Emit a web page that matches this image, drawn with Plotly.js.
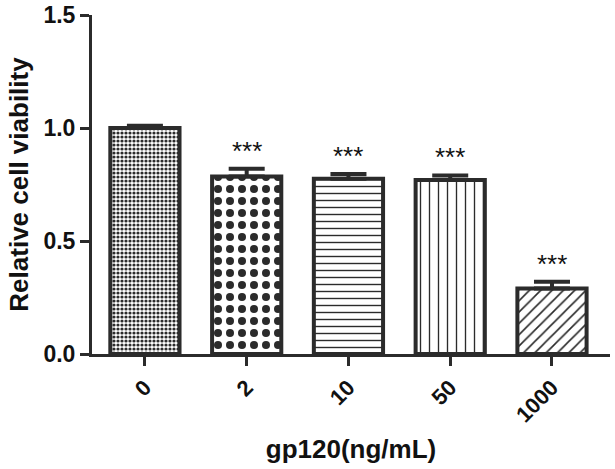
<!DOCTYPE html>
<html>
<head>
<meta charset="utf-8">
<script src="https://cdn.plot.ly/plotly-3.0.1.min.js"></script>
<style>html,body{margin:0;padding:0;background:#fff;}#chart{width:615px;height:469px;}</style>
</head>
<body>
<div id="chart"></div>
<script>
const categories = ["0", "2", "10", "50", "1000"];
const viability = [1.0, 0.785, 0.775, 0.77, 0.29];
const errorSD = [0.01, 0.035, 0.022, 0.02, 0.03];
const significance = ["", "***", "***", "***", "***"];
const patternShapes = [".", ".", "-", "|", "/"];
const patternSizes = [4, 12, 7, 9, 8];
const patternSolidity = [0.5, 0.35, 0.2, 0.15, 0.2];

const dark = "#2b2b2b";
const font = "Liberation Sans, Arial, sans-serif";

const traces = categories.map((c, i) => ({
  type: "bar",
  x: [i],
  y: [viability[i]],
  width: 0.68,
  marker: {
    color: "#ffffff",
    line: {color: dark, width: 4},
    pattern: {shape: patternShapes[i], size: patternSizes[i], solidity: patternSolidity[i], fgcolor: dark, bgcolor: "#ffffff", fillmode: "replace"}
  },
  error_y: {type: "data", array: [errorSD[i]], arrayminus: [0], symmetric: false, color: dark, thickness: 4, width: 18},
  showlegend: false,
  hoverinfo: "skip"
}));

const annotations = categories.map((c, i) => ({
  x: i, y: viability[i] + errorSD[i] + 0.005, xref: "x", yref: "y",
  text: significance[i], showarrow: false, yanchor: "bottom",
  font: {family: font, size: 26, color: "#111"}
})).filter(a => a.text);

const layout = {
  width: 615, height: 469,
  margin: {l: 92, r: 5, t: 15, b: 115},
  paper_bgcolor: "#fff", plot_bgcolor: "#fff",
  xaxis: {
    range: [-0.52, 4.57],
    tickmode: "array", tickvals: categories.map((c, i) => i), ticktext: categories,
    tickangle: -45,
    ticks: "outside", ticklen: 9, tickwidth: 3, tickcolor: dark,
    showline: true, linecolor: dark, linewidth: 3,
    showgrid: false, zeroline: false,
    tickfont: {family: font, size: 22, color: "#111", weight: "bold"},
    title: {text: "<b>gp120(ng/mL)</b>", font: {family: font, size: 26, color: "#111"}, standoff: 14}
  },
  yaxis: {
    range: [0, 1.5],
    tickvals: [0, 0.5, 1.0, 1.5], ticktext: ["0.0", "0.5", "1.0", "1.5"],
    ticks: "outside", ticklen: 9, tickwidth: 3, tickcolor: dark,
    showline: true, linecolor: dark, linewidth: 3,
    showgrid: false, zeroline: false,
    tickfont: {family: font, size: 23, color: "#111", weight: "bold"},
    title: {text: "<b>Relative cell viability</b>", font: {family: font, size: 26, color: "#111"}, standoff: 8}
  },
  annotations: annotations
};

Plotly.newPlot("chart", traces, layout, {displayModeBar: false, staticPlot: true});
</script>
</body>
</html>
